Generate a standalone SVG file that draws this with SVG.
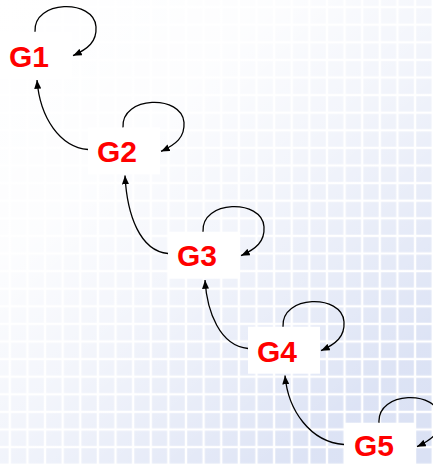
<svg xmlns="http://www.w3.org/2000/svg" width="433" height="464" viewBox="0 0 433 464">
  <defs>
    <!-- tiled background: pale blue squares separated by white lines -->
    <pattern id="tiles" patternUnits="userSpaceOnUse" x="9.8" y="7.1" width="17.62" height="17.6">
      <rect width="17.62" height="17.6" fill="#ffffff"/>
      <rect x="1.2" y="1.2" width="15.2" height="15.2" fill="#dae1f4"/>
    </pattern>
    <!-- white wash fading the tiles towards the top-left corner -->
    <linearGradient id="wash" gradientUnits="userSpaceOnUse" x1="0" y1="0" x2="433" y2="464">
      <stop offset="0" stop-color="#ffffff" stop-opacity="1"/>
      <stop offset="0.3" stop-color="#ffffff" stop-opacity="0.93"/>
      <stop offset="0.5" stop-color="#ffffff" stop-opacity="0.68"/>
      <stop offset="0.85" stop-color="#ffffff" stop-opacity="0.08"/>
      <stop offset="1" stop-color="#ffffff" stop-opacity="0"/>
    </linearGradient>
    <marker id="arrow" markerUnits="userSpaceOnUse" viewBox="0 0 10 8" markerWidth="9" markerHeight="7" refX="10" refY="4" orient="auto">
      <path d="M0,0 L10,4 L0,8 z" fill="#000000"/>
    </marker>
    <style>
      .box { fill: #ffffff; }
      .label { font-family: "Liberation Sans", Arial, sans-serif; font-weight: bold; font-size: 30px; fill: #ff0000; }
      .link { fill: none; stroke: #000000; stroke-width: 1.3; marker-end: url(#arrow); }
    </style>
  </defs>

  <rect width="433" height="464" fill="url(#tiles)"/>
  <rect width="433" height="464" fill="url(#wash)"/>

  <!-- nodes -->
  <g id="G1">
    <rect class="box" x="0" y="31.7" width="72" height="47"/>
    <text class="label" x="9" y="66.5">G1</text>
  </g>
  <g id="G2">
    <rect class="box" x="88" y="127.4" width="72" height="47"/>
    <text class="label" x="97" y="162.4">G2</text>
  </g>
  <g id="G3">
    <rect class="box" x="168" y="231.7" width="72" height="47"/>
    <text class="label" x="177" y="266.3">G3</text>
  </g>
  <g id="G4">
    <rect class="box" x="248" y="326.7" width="72" height="47"/>
    <text class="label" x="257" y="362">G4</text>
  </g>
  <g id="G5">
    <rect class="box" x="344" y="422.7" width="72" height="47"/>
    <text class="label" x="354" y="456.3">G5</text>
  </g>

  <!-- connectors -->
  <g id="connectors">
    <!-- self loops -->
    <path class="link" d="M35,31.7 C33,-0.3 94,-1.3 96,26.7 C97,41.7 88,48.7 73,55.7"/>
    <path class="link" d="M123,127.4 C121,95.4 182,94.4 184,122.4 C185,137.4 176,144.4 161,151.4"/>
    <path class="link" d="M203,231.7 C201,199.7 262,198.7 264,226.7 C265,241.7 256,248.7 241,255.7"/>
    <path class="link" d="M283,326.7 C281,294.7 342,293.7 344,321.7 C345,336.7 336,343.7 321,350.7"/>
    <path class="link" d="M379,422.7 C377,390.7 438,389.7 440,417.7 C441,432.7 432,439.7 417,446.7"/>
    <!-- transitions back to the previous node -->
    <path class="link" d="M88,149.5 C60,147 40,118 37,80"/>
    <path class="link" d="M168,253.5 C140,251 127,215 125,175.5"/>
    <path class="link" d="M248,348.5 C220,346 207,312 205,280"/>
    <path class="link" d="M344,444.5 C310,442 288,410 285,375.5"/>
  </g>
</svg>
